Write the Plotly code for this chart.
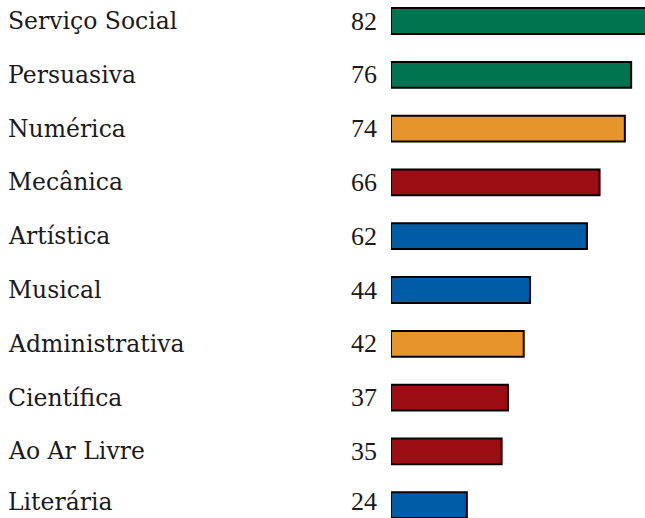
import plotly.graph_objects as go

categories = ["Serviço Social", "Persuasiva", "Numérica", "Mecânica", "Artística",
              "Musical", "Administrativa", "Científica", "Ao Ar Livre", "Literária"]
values = [82, 76, 74, 66, 62, 44, 42, 37, 35, 24]
colors = ["#00734F", "#00734F", "#E5952B", "#9C0E14", "#005DA5",
          "#005DA5", "#E5952B", "#9C0E14", "#9C0E14", "#005DA5"]

W, H = 645, 518
L = 391
scale = 3.16
pitch = 53.8
top_center = 21
plot_w = W - L

ypos = list(range(len(categories)))

fig = go.Figure(go.Bar(
    x=values, y=ypos, orientation="h",
    marker=dict(color=colors, line=dict(color="black", width=2)),
    width=0.48, hoverinfo="skip",
))

annotations = []
n = len(categories)
for i, (c, v) in enumerate(zip(categories, values)):
    if i == n - 1:
        ypart = dict(y=0, yref="paper", yanchor="bottom")
    else:
        ypart = dict(y=i, yref="y", yanchor="middle")
    annotations.append(dict(
        x=(6 - L) / plot_w, xref="paper", text=c, showarrow=False,
        xanchor="left", **ypart,
        font=dict(family="DejaVu Serif", size=23.5, color="#1a1a1a")))
    annotations.append(dict(
        x=(379 - L) / plot_w, xref="paper", text=str(v), showarrow=False,
        xanchor="right", **ypart,
        font=dict(family="Liberation Serif", size=26, color="#1a1a1a")))

fig.update_layout(
    width=W, height=H,
    margin=dict(l=L, r=0, t=0, b=0),
    paper_bgcolor="white", plot_bgcolor="white",
    showlegend=False,
    xaxis=dict(range=[0, plot_w / scale], visible=False, fixedrange=True),
    yaxis=dict(range=[(H - top_center) / pitch, -top_center / pitch],
               visible=False, fixedrange=True),
    annotations=annotations,
)

fig.write_html("out.html", config={"displayModeBar": False},
               post_script="document.body.style.margin='0';")
